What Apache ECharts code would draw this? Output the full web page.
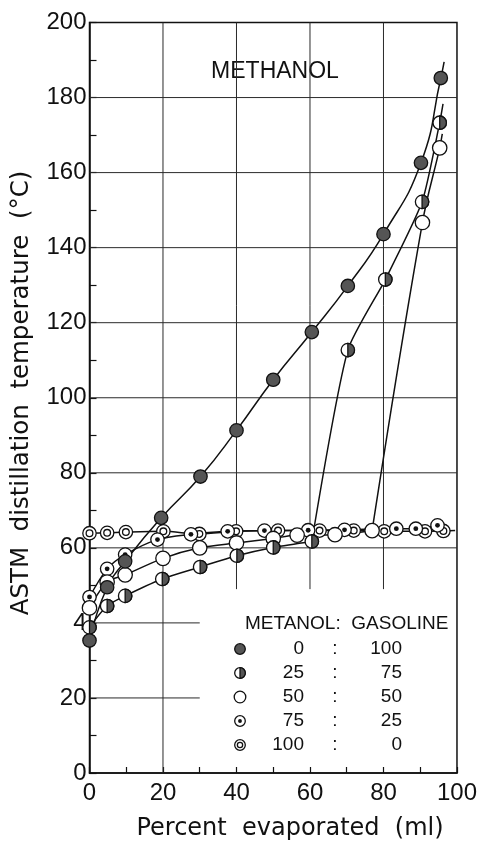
<!DOCTYPE html>
<html><head><meta charset="utf-8">
<script src="https://cdn.jsdelivr.net/npm/echarts@6/dist/echarts.min.js"></script>
<style>html,body{margin:0;padding:0;background:#fff}#c{width:480px;height:843px}</style>
</head><body><div id="c"></div>
<script>
// ---- data ----
const title = 'METHANOL';
const xAxisTitle = 'Percent  evaporated  (ml)';
const yAxisTitle = 'ASTM  distillation  temperature  (°C)';
const yTickValues = [0, 20, 40, 60, 80, 100, 120, 140, 160, 180, 200];
const yTickTexts  = ['0', '20', '4', '60', '80', '100', '120', '140', '160', '180', '200'];
const xTickValues = [0, 20, 40, 60, 80, 100];
const xTickTexts  = ['0', '20', '40', '60', '80', '100'];

const legendHeader = 'METANOL:  GASOLINE';
const ratioMethanol = ['0', '25', '50', '75', '100'];
const ratioGasoline = ['100', '75', '50', '25', '0'];

// methanol : gasoline = 0 : 100
const pts0_100 = [[0,35.3],[4.8,49.5],[9.7,56.4],[19.5,68.0],[30.2,79.0],[40,91.3],[50,104.8],[60.5,117.5],[70.3,129.8],[80,143.6],[90.2,162.6],[95.6,185.2]];
const tail0_100 = [[96.5,189.5]];
// 25 : 75
const pts25_75 = [[0,38.8],[4.8,44.5],[9.7,47.2],[19.8,51.7],[30.1,54.9],[40.1,57.9],[50,60.1],[60.5,61.7],[70.3,112.7],[80.5,131.5],[90.5,152.2],[95.3,173.3]];
const tail25_75 = [[96.2,178.3]];
// 50 : 50
const pts50_50 = [[0,44.0],[4.8,50.9],[9.7,52.8],[20,57.2],[30,60.0],[40,61.3],[50,62.5],[56.5,63.4],[66.8,63.5],[76.9,64.6],[90.6,146.7],[95.3,166.6]];
const tail50_50 = [[96,170.3]];
// 75 : 25
const pts75_25 = [[0,46.9],[4.8,54.4],[9.7,58.2],[18.5,62.2],[27.6,63.6],[37.6,64.4],[47.6,64.6],[59.5,64.7],[69.4,64.8],[83.5,65.1],[88.8,65.1],[94.7,66.0]];
const tail75_25 = [];
// 100 : 0
const pts100_0 = [[0,63.9],[4.8,64.0],[9.9,64.2],[20.1,64.4],[29.9,63.7],[39.9,64.4],[51.3,64.6],[62.6,64.6],[71.9,64.6],[80.2,64.4],[91.3,64.4],[96.3,64.5]];
const tail100_0 = [[99.5,64.6]];

// ---- drawing ----
const TICK_FONT = 'Liberation Sans, Arial, sans-serif';
const TITLE_FONT = 'DejaVu Sans, sans-serif';
const INK = '#111';
const DARK = '#555';

function markerShapes(kind, x, y, r) {
  const lw = 1.3;
  if (kind === 'dark') {
    return [{type:'circle', shape:{cx:x, cy:y, r:r}, style:{fill:DARK, stroke:INK, lineWidth:lw}}];
  }
  if (kind === 'half') {
    return [
      {type:'circle', shape:{cx:x, cy:y, r:r}, style:{fill:'#fff', stroke:INK, lineWidth:lw}},
      {type:'sector', shape:{cx:x, cy:y, r0:0, r:r, startAngle:-Math.PI/2, endAngle:Math.PI/2, clockwise:true}, style:{fill:DARK, stroke:INK, lineWidth:lw}}
    ];
  }
  if (kind === 'open') {
    return [{type:'circle', shape:{cx:x, cy:y, r:r + 0.5}, style:{fill:'#fff', stroke:INK, lineWidth:lw}}];
  }
  if (kind === 'dot') {
    return [
      {type:'circle', shape:{cx:x, cy:y, r:r}, style:{fill:'#fff', stroke:INK, lineWidth:lw}},
      {type:'circle', shape:{cx:x, cy:y, r:r * 0.36}, style:{fill:INK}}
    ];
  }
  // ring (double circle)
  return [
    {type:'circle', shape:{cx:x, cy:y, r:r}, style:{fill:'#fff', stroke:INK, lineWidth:lw}},
    {type:'circle', shape:{cx:x, cy:y, r:r * 0.5}, style:{fill:'#fff', stroke:INK, lineWidth:lw}}
  ];
}

// riseFrom: index of the point where the curve turns upward (curve drawn in two smooth pieces)
const groups = [
  {name:'0:100', pts:pts0_100, tail:tail0_100, kind:'dark', riseFrom:null, smooth:0.5, riseSmooth:0},
  {name:'25:75', pts:pts25_75, tail:tail25_75, kind:'half', riseFrom:7, smooth:0.3, riseSmooth:0.2},
  {name:'50:50', pts:pts50_50, tail:tail50_50, kind:'open', riseFrom:9, smooth:0.3, riseSmooth:0.4},
  {name:'75:25', pts:pts75_25, tail:tail75_25, kind:'dot', riseFrom:null, smooth:0.3, riseSmooth:0},
  {name:'100:0', pts:pts100_0, tail:tail100_0, kind:'ring', riseFrom:null, smooth:0.3, riseSmooth:0}
];

const series = [];
// grid lines (partial, as in the reference)
const gridSegs = [];
[60, 80, 100, 120, 140, 160, 180].forEach(v => gridSegs.push([[0, v], [100, v]]));
[20, 40].forEach(v => gridSegs.push([[0, v], [30, v]]));
gridSegs.push([[20, 0], [20, 200]]);
[40, 60, 80].forEach(v => gridSegs.push([[v, 49], [v, 200]]));
gridSegs.forEach(seg => series.push({
  type:'line', data:seg, symbol:'none', silent:true, z:1,
  lineStyle:{color:'#2a2a2a', width:1}
}));

// curves
function curve(data, smooth) {
  return {type:'line', data:data, symbol:'none', smooth:smooth, z:3, silent:true,
          lineStyle:{color:INK, width:1.5}};
}
groups.forEach(g => {
  const all = g.pts.concat(g.tail);
  if (g.riseFrom === null) {
    series.push(curve(all, g.smooth));
  } else {
    series.push(curve(all.slice(0, g.riseFrom + 1), g.smooth));
    series.push(curve(all.slice(g.riseFrom), g.riseSmooth));
  }
});

// markers (drawn on top)
[4, 3, 2, 1, 0].forEach(gi => {
  const g = groups[gi];
  series.push({
    type:'custom', name:g.name + ' pts', data:g.pts, z:5, clip:false, silent:true,
    renderItem: function (params, api) {
      const p = api.coord([api.value(0), api.value(1)]);
      return {type:'group', children: markerShapes(g.kind, p[0], p[1], 6.7)};
    }
  });
});

// legend (table) and titles
const graphic = [];
graphic.push({type:'text', x:275, y:72, style:{text:title, font:'23px ' + TICK_FONT, fill:INK, align:'center', verticalAlign:'middle'}});
graphic.push({type:'text', x:22, y:393, rotation:Math.PI/2, style:{text:yAxisTitle, font:'24.5px ' + TITLE_FONT, fill:INK, align:'center', verticalAlign:'middle'}});
graphic.push({type:'text', x:290, y:829, style:{text:xAxisTitle, font:'24px ' + TITLE_FONT, fill:INK, align:'center', verticalAlign:'middle'}});
graphic.push({type:'text', x:245, y:624, style:{text:legendHeader, font:'19px ' + TICK_FONT, fill:INK, align:'left', verticalAlign:'middle'}});
const rowY = [649, 673, 697, 721, 745];
groups.forEach((g, i) => {
  const y = rowY[i];
  markerShapes(g.kind, 240, y, 5.3).forEach(s => graphic.push(Object.assign({}, s)));
  graphic.push({type:'text', x:304, y:y, style:{text:ratioMethanol[i], font:'19px ' + TICK_FONT, fill:INK, align:'right', verticalAlign:'middle'}});
  graphic.push({type:'text', x:335, y:y, style:{text:':', font:'19px ' + TICK_FONT, fill:INK, align:'center', verticalAlign:'middle'}});
  graphic.push({type:'text', x:402, y:y, style:{text:ratioGasoline[i], font:'19px ' + TICK_FONT, fill:INK, align:'right', verticalAlign:'middle'}});
});

const option = {
  animation:false,
  backgroundColor:'#fff',
  grid:{left:89.5, right:14.5, top:22.5, bottom:70, show:true, borderColor:INK, borderWidth:1.5, backgroundColor:'transparent'},
  xAxis:{
    type:'value', min:0, max:100, interval:10,
    axisLine:{show:true, lineStyle:{color:INK, width:1.5}},
    axisTick:{show:true, inside:true, length:6, lineStyle:{color:INK, width:1.2}},
    splitLine:{show:false},
    axisLabel:{margin:8, color:INK, fontFamily:TICK_FONT, fontSize:24,
      formatter: v => { const i = xTickValues.indexOf(v); return i >= 0 ? xTickTexts[i] : ''; }}
  },
  yAxis:{
    type:'value', min:0, max:200, interval:10,
    axisLine:{show:true, lineStyle:{color:INK, width:1.5}},
    axisTick:{show:true, inside:true, length:7, lineStyle:{color:INK, width:1.2}},
    splitLine:{show:false},
    axisLabel:{margin:3, color:INK, fontFamily:TICK_FONT, fontSize:24,
      formatter: v => { const i = yTickValues.indexOf(v); return i >= 0 ? yTickTexts[i] : ''; }}
  },
  series: series,
  graphic: graphic
};

const chart = echarts.init(document.getElementById('c'), null, {renderer:'canvas'});
chart.setOption(option);
</script>
</body></html>
